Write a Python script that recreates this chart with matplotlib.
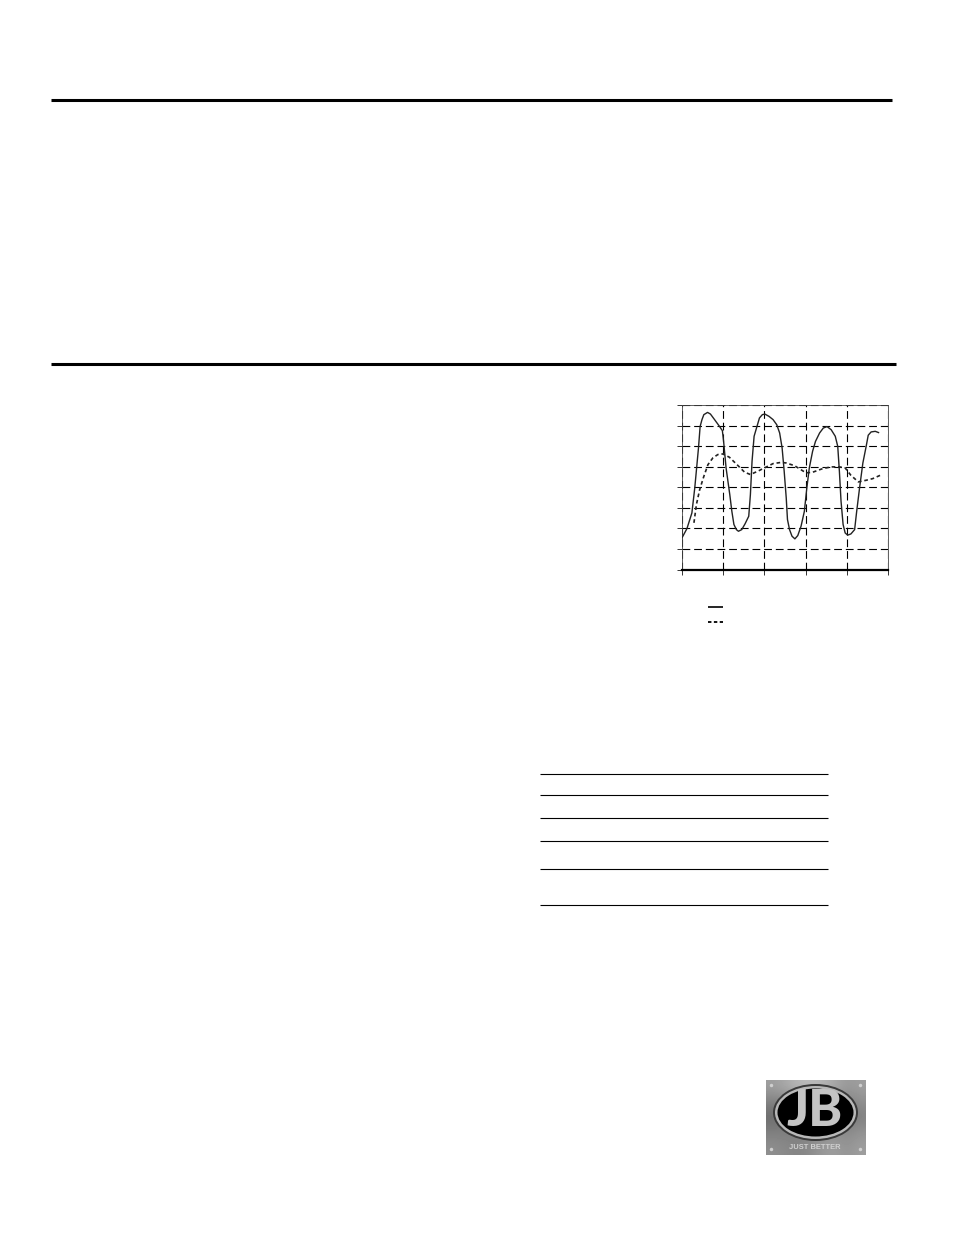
import numpy as np
import matplotlib
matplotlib.use('Agg')
import matplotlib.pyplot as plt
from matplotlib.patches import Ellipse

# Courbes (x et y en divisions de la grille)
solid_x = [0, .12, .24, .31, .40, .44, .485, .53, .62, .69, .79, .91, .98, 1.01, 1.07, 1.16, 1.21, 1.26, 1.32,
           1.37, 1.45, 1.53, 1.62, 1.66, 1.70, 1.75, 1.82, 1.88, 1.95, 2.01, 2.11, 2.21, 2.30, 2.37, 2.43, 2.48,
           2.53, 2.56, 2.61, 2.67, 2.74, 2.81, 2.89, 2.97, 3.03, 3.09, 3.17, 3.24, 3.34, 3.43, 3.52, 3.62, 3.72,
           3.78, 3.82, 3.86, 3.91, 3.96, 4.02, 4.10, 4.19, 4.24, 4.31, 4.39, 4.47, 4.52, 4.59, 4.69, 4.77]
solid_y = [1.54, 1.99, 2.75, 3.97, 5.91, 6.96, 7.29, 7.53, 7.64, 7.56, 7.29, 6.96, 6.75, 6.23, 4.94, 3.64, 2.83,
           2.19, 1.94, 1.86, 1.94, 2.22, 2.59, 3.64, 5.26, 6.48, 6.96, 7.37, 7.53, 7.56, 7.45, 7.29, 7.04, 6.64,
           5.91, 4.78, 3.48, 2.43, 1.94, 1.62, 1.49, 1.65, 2.11, 2.83, 3.97, 4.94, 5.75, 6.23, 6.64, 6.88, 6.95,
           6.80, 6.48, 5.99, 4.78, 3.32, 2.19, 1.78, 1.67, 1.73, 1.94, 2.83, 3.97, 5.18, 5.99, 6.53, 6.69, 6.72,
           6.66]

dash_x = [.29, .35, .43, .53, .63, .75, .87, .99, 1.15, 1.36, 1.52, 1.66, 1.84, 2.00, 2.21, 2.41, 2.53, 2.73,
          3.01, 3.17, 3.42, 3.62, 3.82, 3.96, 4.10, 4.28, 4.47, 4.63, 4.81]
dash_y = [2.27, 3.16, 3.89, 4.53, 5.10, 5.43, 5.59, 5.62, 5.46, 5.05, 4.73, 4.62, 4.78, 4.94, 5.15, 5.21, 5.18,
          5.05, 4.70, 4.73, 4.91, 4.99, 4.99, 4.94, 4.58, 4.26, 4.34, 4.42, 4.58]

# Filets de la page (pixels)
page_rules = [(51.5, 892, 100), (51.5, 896, 364)]
table_rules = [774, 795, 818, 841, 869, 905]

W, H = 954, 1235


def main():
    fig = plt.figure(figsize=(W / 100, H / 100), dpi=100)

    # Calque en pixels pour tout ce qui entoure le graphique
    page = fig.add_axes([0, 0, 1, 1])
    page.axis('off')

    for x0, x1, y in page_rules:
        page.plot([x0, x1], [y, y], color='black', lw=2.2, solid_capstyle='butt')
    for y in table_rules:
        page.plot([540.5, 828.5], [y, y], color='black', lw=0.8, solid_capstyle='butt')

    # Légende sans texte
    page.plot([708, 723], [607, 607], color='black', lw=1.2, solid_capstyle='butt')
    page.plot([708, 723.5], [621.5, 621.5], color='black', lw=1.3, ls=(0, (1.9, 1.35)))

    # Logo
    grad = np.array([[.62, .66, .72, .74, .72, .66, .60, .62],
                     [.50, .50, .52, .54, .56, .54, .50, .56],
                     [.42, .44, .46, .50, .52, .50, .46, .50],
                     [.50, .50, .50, .52, .56, .56, .54, .58],
                     [.56, .54, .52, .54, .60, .62, .58, .62]])
    page.imshow(grad, cmap='gray', vmin=0, vmax=1, extent=(766, 866, 1155, 1080),
                interpolation='bicubic', aspect='auto', zorder=1)
    page.add_patch(Ellipse((815.5, 1112.5), 85, 57, fc='#3a3a3a', ec='none', zorder=2))
    page.add_patch(Ellipse((815.5, 1112.5), 81, 53, fc='#b8b8b8', ec='none', zorder=2))
    page.add_patch(Ellipse((815.5, 1112.5), 76, 48, fc='black', ec='none', zorder=3))
    page.text(815, 1111, 'JB', color='#c4c4c4', fontsize=37, fontweight='black',
              family='Lato', ha='center', va='center', zorder=4)
    page.text(815, 1147.5, 'JUST BETTER', color='#d0d0d0', fontsize=5.4, fontweight='bold',
              family='Liberation Sans', ha='center', va='center', zorder=4)
    for sx, sy in [(771, 1085), (860, 1085), (771, 1149), (860, 1149)]:
        page.plot(sx, sy, 'o', ms=2.5, color='#cfcfcf', mec='none', zorder=4)

    page.set_xlim(0, W)
    page.set_ylim(H, 0)

    # Graphique
    left, right, top, bottom = 682, 888, 405, 569.5
    ax = fig.add_axes([left / W, 1 - bottom / H, (right - left) / W, (bottom - top) / H])
    ax.plot(solid_x, solid_y, color='#222222', lw=1.0, zorder=3)
    ax.plot(dash_x, dash_y, color='#222222', lw=1.2, ls=(0, (2.2, 1.7)), zorder=3)

    ax.set_xlim(0, 5)
    ax.set_ylim(0, 8)
    ax.set_xticks(range(6))
    ax.set_yticks(range(9))
    ax.set_xticklabels([])
    ax.set_yticklabels([])
    ax.grid(True, color='black', lw=0.8, ls=(0, (7, 3.5)))
    ax.set_axisbelow(True)
    ax.tick_params(direction='out', length=3.5, width=0.7, color='#333333')
    for cote in ['left', 'top', 'right']:
        ax.spines[cote].set_linewidth(0.6)
        ax.spines[cote].set_color('#444444')
    ax.spines['bottom'].set_linewidth(1.6)
    ax.spines['bottom'].set_color('black')

    fig.savefig('out.png', dpi=100)


if __name__ == '__main__':
    main()
